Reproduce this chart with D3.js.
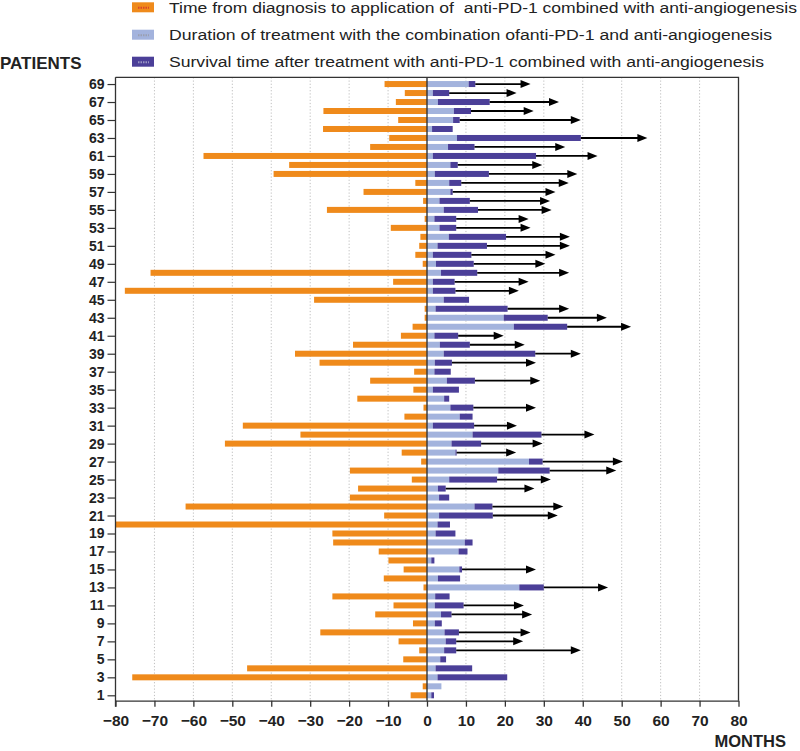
<!DOCTYPE html>
<html>
<head>
<meta charset="utf-8">
<script src="https://cdn.jsdelivr.net/npm/d3@7"></script>
<style>
  html, body { margin: 0; padding: 0; background: #fff; }
  svg { display: block; font-family: "Liberation Sans", Arial, sans-serif; }
</style>
</head>
<body>
<svg id="chart" width="800" height="751"></svg>
<script>
// ---------------- data ----------------
const patients = d3.range(1, 70); // patient numbers 1..69
// months from diagnosis to start of anti-PD-1 + anti-angiogenesis (drawn to the left of 0)
const diagnosisMonths = [
  4.2, 1.1, 75.7, 46.2, 6.1, 2.0, 7.3, 27.4, 3.6, 13.3,
  8.6, 24.3, 0.9, 11.1, 6.0, 9.9, 12.4, 24.1, 24.3, 80.0,
  11.0, 62.0, 19.8, 17.7, 3.9, 19.8, 1.5, 6.5, 51.9, 32.5,
  47.3, 5.8, 0.9, 17.9, 3.5, 14.6, 3.3, 27.6, 33.9, 19.0,
  6.7, 3.7, 0.6, 0.6, 29.0, 77.6, 8.7, 71.0, 1.1, 3.0,
  2.0, 1.7, 9.3, 0.6, 25.7, 1.0, 16.3, 3.0, 39.4, 35.4,
  57.4, 14.6, 9.7, 26.7, 7.4, 26.6, 8.0, 5.7, 10.9
];
// end of combination treatment (months)
const treatmentEnd = [
  1.1, 3.7, 2.7, 2.2, 3.4, 4.4, 4.8, 4.5, 2.0, 3.6,
  2.0, 2.1, 23.7, 2.8, 8.3, 1.1, 8.1, 9.7, 2.2, 2.7,
  3.1, 12.2, 3.1, 2.8, 5.7, 18.3, 26.2, 7.3, 6.3, 11.7,
  1.5, 8.4, 6.0, 4.4, 1.5, 5.1, 1.9, 2.0, 4.3, 3.3,
  1.9, 22.3, 19.7, 2.2, 4.3, 1.5, 1.5, 3.6, 2.3, 1.5,
  2.7, 5.6, 3.2, 1.9, 4.3, 3.2, 6.0, 5.7, 2.0, 6.0,
  1.5, 5.4, 7.7, 1.3, 6.7, 6.9, 2.8, 1.5, 10.7
];
// end of survival time after treatment (months)
const survivalEnd = [
  1.8, 3.7, 20.6, 11.6, 4.9, 7.5, 7.5, 8.2, 3.8, 6.3,
  9.4, 5.8, 30.0, 8.5, 9.0, 1.9, 10.4, 11.7, 7.3, 5.9,
  16.9, 16.8, 5.7, 4.8, 18.0, 31.5, 29.7, 7.6, 13.9, 29.4,
  12.1, 11.7, 11.9, 5.7, 8.2, 12.3, 6.1, 6.4, 27.8, 11.0,
  8.0, 36.0, 31.0, 20.7, 10.8, 7.3, 7.1, 12.9, 12.0, 11.4,
  15.4, 20.3, 7.5, 7.5, 13.1, 11.0, 6.6, 8.8, 15.9, 7.9,
  28.0, 12.2, 39.5, 6.6, 8.4, 11.3, 16.1, 5.7, 12.4
];
// arrow tip (months) for patients still alive at last follow-up; null = no arrow
const arrowEnd = [
  null, null, null, null, null, 39.5, 24.7, 26.6, null, 27.0,
  24.9, null, 46.5, null, 28.0, null, null, null, null, null,
  33.6, 35.0, null, 27.6, 31.8, 48.6, 50.3, 22.9, 29.7, 43.0,
  23.1, null, 28.0, null, null, 29.1, null, 28.0, 39.5, 25.1,
  19.7, 52.4, 46.2, 36.5, null, 23.6, 26.1, 36.5, 30.4, 33.0,
  36.7, 36.7, 26.6, 26.1, 32.0, 31.6, 33.0, 36.4, 38.6, 29.6,
  43.8, 35.5, 56.6, null, 39.5, 27.4, 33.9, 23.0, 26.6
];
const xTicks = [-80, -70, -60, -50, -40, -30, -20, -10, 0, 10, 20, 30, 40, 50, 60, 70, 80];
const yTickLabels = patients.filter(p => p % 2 === 1);
const legendLabels = [
  "Time from diagnosis to application of  anti-PD-1 combined with anti-angiogenesis",
  "Duration of treatment with the combination ofanti-PD-1 and anti-angiogenesis",
  "Survival time after treatment with anti-PD-1 combined with anti-angiogenesis"
];

// ---------------- styles ----------------
const cOrange = "#EF8A1B", cLight = "#A3B3DD", cDark = "#4B3F98";
const legendColors = [cOrange, cLight, cDark];
const legendInner = ["#d9452b", "#9a9fb0", "#9b97c4"];
const legendTextLen = [628, 603, 595];

const rows = patients.map((p, i) => ({
  p, diag: diagnosisMonths[i], tEnd: treatmentEnd[i], sEnd: survivalEnd[i], arrow: arrowEnd[i]
}));

const svg = d3.select("#chart");
const x = d3.scaleLinear().domain([-80, 80]).range([115.5, 738.5]);
const y = d3.scaleLinear().domain([0.4, 69.75]).range([700.7, 77.3]);
const barH = 6;

// gridlines
svg.append("g").selectAll("line")
  .data(xTicks.filter(t => t !== 0 && Math.abs(t) !== 80))
  .join("line")
  .attr("x1", d => x(d)).attr("x2", d => x(d))
  .attr("y1", y.range()[1]).attr("y2", y.range()[0])
  .attr("stroke", "#b8b8b8").attr("stroke-width", 0.9)
  .attr("stroke-dasharray", "1.2,2");

const g = svg.append("g");
// orange bars
g.selectAll("rect.diag").data(rows).join("rect").attr("class", "diag")
  .attr("x", d => x(-Math.min(d.diag, 80))).attr("width", d => x(0) - x(-Math.min(d.diag, 80)))
  .attr("y", d => y(d.p) - barH / 2).attr("height", barH).attr("fill", cOrange);
// light bars
g.selectAll("rect.treat").data(rows).join("rect").attr("class", "treat")
  .attr("x", x(0)).attr("width", d => x(d.tEnd) - x(0))
  .attr("y", d => y(d.p) - barH / 2).attr("height", barH).attr("fill", cLight);
// dark bars
g.selectAll("rect.surv").data(rows.filter(d => d.sEnd > d.tEnd)).join("rect").attr("class", "surv")
  .attr("x", d => x(d.tEnd)).attr("width", d => x(d.sEnd) - x(d.tEnd))
  .attr("y", d => y(d.p) - barH / 2).attr("height", barH).attr("fill", cDark);

// arrows
const arr = rows.filter(d => d.arrow != null);
const headL = 10, headH = 4;
g.selectAll("line.arrow").data(arr).join("line").attr("class", "arrow")
  .attr("x1", d => x(d.sEnd)).attr("x2", d => x(d.arrow) - headL + 1)
  .attr("y1", d => y(d.p)).attr("y2", d => y(d.p))
  .attr("stroke", "#000").attr("stroke-width", 1.8);
g.selectAll("path.head").data(arr).join("path").attr("class", "head")
  .attr("d", d => {
    const tx = x(d.arrow), ty = y(d.p);
    return `M${tx},${ty}L${tx - headL},${ty - headH}L${tx - headL},${ty + headH}Z`;
  })
  .attr("fill", "#000");

// zero line
svg.append("line")
  .attr("x1", x(0)).attr("x2", x(0)).attr("y1", y.range()[1]).attr("y2", y.range()[0])
  .attr("stroke", "#333").attr("stroke-width", 1.4);

// frame (top and right)
svg.append("path")
  .attr("d", `M${x(-80)},${y.range()[1]}H${x(80)}V${y.range()[0]}`)
  .attr("fill", "none").attr("stroke", "#333").attr("stroke-width", 1.3);

// x axis
const xAxis = svg.append("g").attr("transform", `translate(0,${y.range()[0]})`)
  .call(d3.axisBottom(x).tickValues(xTicks).tickSize(6).tickSizeOuter(0).tickPadding(8));
xAxis.select(".domain").attr("stroke", "#333").attr("stroke-width", 1.3);
xAxis.selectAll(".tick line").attr("stroke", "#333").attr("stroke-width", 1.3);
xAxis.selectAll(".tick text")
  .attr("font-family", "'Liberation Sans', Arial, sans-serif")
  .attr("font-size", 15.5).attr("font-weight", "bold").attr("fill", "#222");

// y axis
const yAxis = svg.append("g").attr("transform", `translate(${x(-80)},0)`)
  .call(d3.axisLeft(y).tickValues(yTickLabels).tickSize(8).tickSizeOuter(0).tickPadding(3).tickFormat(d3.format("d")));
yAxis.select(".domain").attr("d", `M0,${y.range()[1]}V${y.range()[0] + 6}`)
  .attr("stroke", "#333").attr("stroke-width", 1.3);
yAxis.selectAll(".tick line").attr("stroke", "#333").attr("stroke-width", 1.2);
yAxis.selectAll(".tick text")
  .attr("font-family", "'Liberation Sans', Arial, sans-serif")
  .attr("font-size", 14).attr("font-weight", "bold").attr("fill", "#222");

// axis titles
svg.append("text").attr("x", 0).attr("y", 69).text("PATIENTS")
  .attr("font-size", 17).attr("font-weight", "bold").attr("fill", "#222");
svg.append("text").attr("x", 786).attr("y", 747).attr("text-anchor", "end").text("MONTHS")
  .attr("font-size", 16.5).attr("font-weight", "bold").attr("fill", "#222");

// legend
const legendY = [7.3, 34.7, 61.7];
const lg = svg.append("g").selectAll("g").data(legendLabels).join("g")
  .attr("transform", (d, i) => `translate(132,${legendY[i]})`);
lg.append("rect").attr("x", 0).attr("y", -5).attr("width", 22).attr("height", 10)
  .attr("fill", (d, i) => legendColors[i]);
lg.append("line").attr("x1", 6).attr("x2", 17).attr("y1", 0.5).attr("y2", 0.5)
  .attr("stroke", (d, i) => legendInner[i]).attr("stroke-width", 2).attr("stroke-dasharray", "1.5,1");
lg.append("text").attr("x", 37).attr("y", 5.4).text(d => d)
  .attr("xml:space", "preserve").style("white-space", "pre")
  .attr("textLength", (d, i) => legendTextLen[i]).attr("lengthAdjust", "spacingAndGlyphs")
  .attr("font-size", 15.5).attr("fill", "#222");
</script>
</body>
</html>
